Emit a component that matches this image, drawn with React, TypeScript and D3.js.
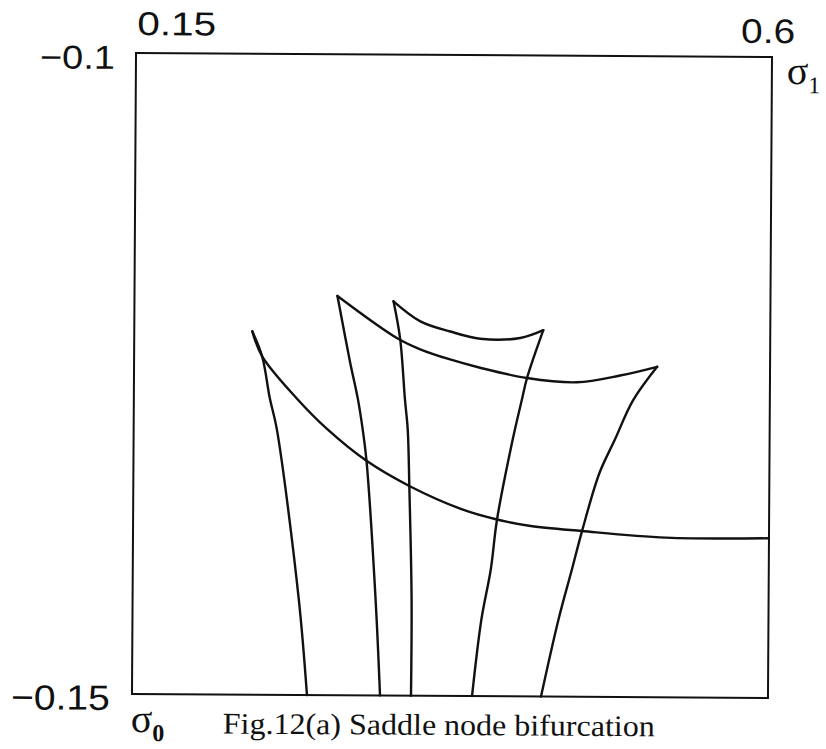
import React from "react";
import * as d3 from "d3";

// Parameter plane: sigma0 (horizontal) vs sigma1 (vertical)
const X_DOMAIN: [number, number] = [0.15, 0.6];
const Y_DOMAIN: [number, number] = [-0.15, -0.1];
const X_TICK_LABELS = ["0.15", "0.6"];
const Y_TICK_LABELS = ["\u22120.1", "\u22120.15"];
const CAPTION = "Fig.12(a) Saddle node bifurcation";

// Saddle-node bifurcation curves, [sigma0, sigma1]
const foldA: [number, number][] = [
  [0.2335, -0.12165], [0.2406, -0.1236], [0.2653, -0.12687], [0.2866, -0.12921],
  [0.3149, -0.1317], [0.3453, -0.13364], [0.3828, -0.13544], [0.4075, -0.13621],
  [0.4302, -0.13668], [0.4677, -0.13707], [0.5271, -0.13754], [0.6, -0.13754],
];
const edgeA: [number, number][] = [
  [0.2335, -0.12165], [0.2406, -0.1236], [0.2462, -0.12687], [0.2512, -0.12921],
  [0.2675, -0.14244], [0.2738, -0.15],
];
const foldB: [number, number][] = [
  [0.2936, -0.11885], [0.3361, -0.12212], [0.3524, -0.12297], [0.3736, -0.12375],
  [0.3948, -0.12438], [0.4281, -0.12516], [0.4634, -0.12547], [0.4939, -0.12492],
  [0.5201, -0.12422],
];
const edgeB: [number, number][] = [
  [0.2936, -0.11885], [0.3028, -0.12399], [0.3085, -0.12687], [0.312, -0.12921],
  [0.3149, -0.1317], [0.3219, -0.14244], [0.3255, -0.15],
];
const foldC: [number, number][] = [
  [0.3333, -0.11924], [0.3524, -0.12079], [0.3736, -0.12157], [0.3948, -0.12212],
  [0.4231, -0.12204], [0.4394, -0.12142],
];
const edgeC: [number, number][] = [
  [0.3333, -0.11924], [0.3382, -0.1222], [0.3418, -0.12687], [0.3439, -0.12921],
  [0.3453, -0.13364], [0.3474, -0.14244], [0.3474, -0.15],
];
const edgeD: [number, number][] = [
  [0.4394, -0.12142], [0.4281, -0.12516], [0.4245, -0.12687], [0.4182, -0.12998],
  [0.4075, -0.13621], [0.4033, -0.14011], [0.3969, -0.144], [0.3906, -0.15],
];
const edgeE: [number, number][] = [
  [0.5201, -0.12422], [0.5031, -0.12687], [0.4903, -0.12998], [0.4797, -0.13255],
  [0.4677, -0.13707], [0.4606, -0.14011], [0.4514, -0.144], [0.4394, -0.15],
];

const CURVES = [foldA, edgeA, foldB, edgeB, foldC, edgeC, edgeD, edgeE];

const W = 826;
const H = 749;
const M = { left: 134, right: 56, top: 55, bottom: 53 };

export default function App() {
  const x = d3.scaleLinear().domain(X_DOMAIN).range([M.left, W - M.right]);
  const y = d3.scaleLinear().domain(Y_DOMAIN).range([H - M.bottom, M.top]);
  const line = d3
    .line<[number, number]>()
    .x((d) => x(d[0]))
    .y((d) => y(d[1]))
    .curve(d3.curveCatmullRom.alpha(0.5));

  const x0 = x(X_DOMAIN[0]);
  const x1 = x(X_DOMAIN[1]);
  const yTop = y(Y_DOMAIN[1]);
  const yBot = y(Y_DOMAIN[0]);

  const sans = "'Liberation Sans', Arial, Helvetica, sans-serif";
  const serif = "'Liberation Serif', 'Times New Roman', serif";

  return (
    <svg
      width={W}
      height={H}
      viewBox={`0 0 ${W} ${H}`}
      style={{ position: "absolute", left: 0, top: 0, background: "#fff" }}
    >
      <g transform={`rotate(0.36 ${W / 2 + 39} ${H / 2})`}>
        <rect
          x={x0}
          y={yTop}
          width={x1 - x0}
          height={yBot - yTop}
          fill="none"
          stroke="#111"
          strokeWidth={2}
        />
        {CURVES.map((c, i) => (
          <path
            key={i}
            d={line(c) ?? ""}
            fill="none"
            stroke="#111"
            strokeWidth={2.4}
            strokeLinejoin="round"
            strokeLinecap="round"
          />
        ))}

        {/* horizontal range labels */}
        <text
          x={x0 + 1}
          y={yTop - 18}
          fontFamily={sans}
          fontSize={33}
          textLength={79}
          lengthAdjust="spacingAndGlyphs"
          fill="#111"
        >
          {X_TICK_LABELS[0]}
        </text>
        <text
          x={x1 + 23}
          y={yTop - 14}
          fontFamily={sans}
          fontSize={34}
          textAnchor="end"
          textLength={54}
          lengthAdjust="spacingAndGlyphs"
          fill="#111"
        >
          {X_TICK_LABELS[1]}
        </text>

        {/* vertical range labels */}
        <text
          x={x0 - 21}
          y={yTop + 16}
          fontFamily={sans}
          fontSize={33}
          textAnchor="end"
          textLength={75}
          lengthAdjust="spacingAndGlyphs"
          fill="#111"
        >
          {Y_TICK_LABELS[0]}
        </text>
        <text
          x={x0 - 22}
          y={yBot + 16}
          fontFamily={sans}
          fontSize={35}
          textAnchor="end"
          textLength={99}
          lengthAdjust="spacingAndGlyphs"
          fill="#111"
        >
          {Y_TICK_LABELS[1]}
        </text>

        {/* axis symbols */}
        <text x={x1 + 15} y={yTop + 27} fontFamily={serif} fontSize={40} fill="#111">
          σ
          <tspan fontSize={24} dy={9}>1</tspan>
        </text>
        <text x={x0 - 1} y={yBot + 38} fontFamily={serif} fontSize={40} fill="#111">
          σ
          <tspan fontSize={24} fontWeight="bold" dy={9}>0</tspan>
        </text>

        <text
          x={225}
          y={yBot + 39}
          fontFamily={serif}
          fontSize={30}
          textLength={432}
          lengthAdjust="spacingAndGlyphs"
          fill="#111"
        >
          {CAPTION}
        </text>
      </g>
    </svg>
  );
}
